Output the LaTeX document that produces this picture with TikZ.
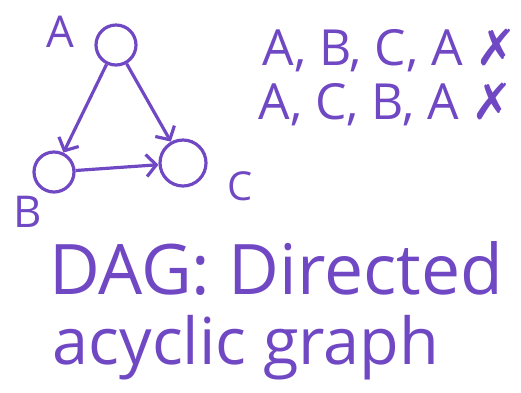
\documentclass[tikz,border=0pt]{standalone}
\usepackage{fontspec}
\setmainfont{Open Sans}
\newfontfamily\symfont{DejaVu Sans}
\usetikzlibrary{arrows.meta}
\definecolor{ink}{RGB}{112,72,196}
\begin{document}
\begin{tikzpicture}[x=1bp,y=-1bp,ink,line width=3.2pt,
  vertex/.style={draw,circle,minimum size=40bp,inner sep=0pt},
  edge/.style={-{Straight Barb[length=10bp,width=22bp]}},
  big/.style={font=\fontsize{50}{56}\selectfont,inner sep=0pt}]
\useasboundingbox (0,0) rectangle (521,392);

\node[vertex] (A) at (116,45) {};
\node[vertex] (B) at (54,172) {};
\node[vertex,minimum size=46bp] (C) at (183,163) {};

\node[big,font=\fontsize{44}{48}\selectfont] (la) at (60,32) {A};
\node[big,font=\fontsize{44}{48}\selectfont] (lb) at (28,212) {B};
\node[big,font=\fontsize{40}{44}\selectfont] (lc) at (240,186) {C};

\draw[edge] (A) -- (B);
\draw[edge] (A) -- (C);
\draw[edge] (B) -- (C);

\node[big] (p1) at (390,50) {A, B, C, A {\symfont\char"2717}};
\node[big] (p2) at (386,104) {A, C, B, A {\symfont\char"2717}};

\node[big,font=\fontsize{70}{76}\selectfont] (d1) at (276,268) {DAG: Directed};
\node[big,font=\fontsize{65}{70}\selectfont] (d2) at (246,348) {acyclic graph};
\end{tikzpicture}
\end{document}
